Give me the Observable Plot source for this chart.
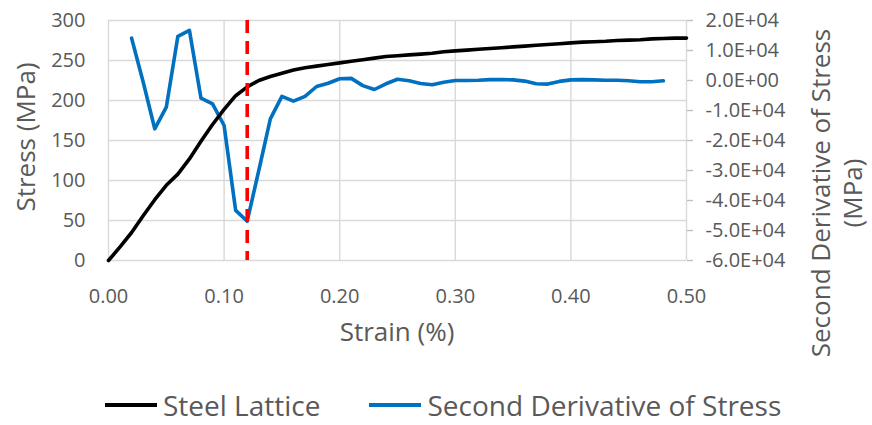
<!DOCTYPE html>
<html>
<head>
<meta charset="utf-8">
<script src="https://cdn.jsdelivr.net/npm/d3@7"></script>
<script src="https://cdn.jsdelivr.net/npm/@observablehq/plot@0.6"></script>
<style>
  body { margin: 0; background: #fff; font-family: "Open Sans", sans-serif; }
  #wrap { position: relative; width: 872px; height: 425px; }
  #legend { position: absolute; left: 105px; top: 390px; display: flex; align-items: center;
            font-size: 28px; line-height: 30px; color: #595959; white-space: nowrap; }
  .sw { display: inline-block; width: 52px; height: 4px; margin-right: 6px; }
  .item { display: flex; align-items: center; }
</style>
</head>
<body>
<div id="wrap">
  <div id="chart"></div>
  <div id="legend"></div>
</div>
<script>
// ---- data ----
const stressStrain = [0.00,0.01,0.02,0.03,0.04,0.05,0.06,0.07,0.08,0.09,0.10,0.11,0.12,0.13,0.14,0.15,0.16,0.17,0.18,0.19,0.20,
  0.21,0.22,0.23,0.24,0.25,0.26,0.27,0.28,0.29,0.30,0.31,0.32,0.33,0.34,0.35,0.36,0.37,0.38,0.39,0.40,
  0.41,0.42,0.43,0.44,0.45,0.46,0.47,0.48,0.49,0.50];
const stressValues = [0,17,35,56,76,94,108,127,149,170,189,206,217,225,230,234,238,241,243,245,247,
  249,251,253,255,256,257,258,259,261,262,263,264,265,266,267,268,269,270,271,272,
  273,273.5,274,275,275.5,276,277,277.5,278,278];
const derivStrain = [0.02,0.03,0.04,0.05,0.06,0.07,0.08,0.09,0.10,0.11,0.12,0.13,0.14,0.15,0.16,0.17,0.18,0.19,0.20,
  0.21,0.22,0.23,0.24,0.25,0.26,0.27,0.28,0.29,0.30,0.31,0.32,0.33,0.34,0.35,0.36,0.37,0.38,0.39,0.40,
  0.41,0.42,0.43,0.44,0.45,0.46,0.47,0.48];
const derivValues = [14100,-500,-16100,-8900,14700,16700,-5900,-7800,-15000,-43300,-46900,-30000,-12800,-5300,-6900,-5300,-2000,-900,600,
  700,-1700,-3000,-1100,400,-100,-1000,-1400,-600,0,0,100,300,300,200,-200,-1100,-1200,-300,200,
  300,200,100,100,-100,-400,-400,-100];
const yieldStrain = [0.12];
const xTicks = [0, 0.1, 0.2, 0.3, 0.4, 0.5];
const yTicks = [0, 50, 100, 150, 200, 250, 300];
const rightTicks = [-60000, -50000, -40000, -30000, -20000, -10000, 0, 10000, 20000];
const seriesNames = ["Steel Lattice", "Second Derivative of Stress"];
const seriesColors = ["#000000", "#0070C0"];
const axisTitles = { x: "Strain (%)", y: "Stress (MPa)", y2: ["Second Derivative of Stress", "(MPa)"] };

// map secondary axis domain [-6e4, 2e4] onto primary [0, 300]
const r0 = -60000, r1 = 20000, p0 = 0, p1 = 300;
const toPrimary = v => p0 + (v - r0) / (r1 - r0) * (p1 - p0);
const toSecondary = p => r0 + (p - p0) / (p1 - p0) * (r1 - r0);
const sciFmt = v => {
  const [m, e] = v.toExponential(1).split("e");
  return m + "E" + e[0] + e.slice(1).padStart(2, "0");
};

const stressData = stressStrain.map((x, i) => ({ x, y: stressValues[i] }));
const derivData = derivStrain.map((x, i) => ({ x, y: toPrimary(derivValues[i]) }));

const W = 872, H = 372;
const mL = 108, mR = 186, mT = 20, mB = 112;
const grid = "#d9d9d9";

const chart = Plot.plot({
  width: W, height: H,
  marginLeft: mL, marginRight: mR, marginTop: mT, marginBottom: mB,
  style: { fontFamily: "'Open Sans', sans-serif", fontSize: "20px", color: "#595959", background: "#fff", overflow: "visible" },
  x: { domain: [0, 0.5] },
  y: { domain: [0, 300] },
  marks: [
    Plot.gridY({ ticks: yTicks, stroke: grid, strokeOpacity: 1, strokeWidth: 1.4 }),
    Plot.gridX({ ticks: xTicks, stroke: grid, strokeOpacity: 1, strokeWidth: 1.4 }),
    Plot.axisY({ ticks: yTicks, tickSize: 0, tickPadding: 23, label: null, fontSize: 20 }),
    Plot.axisX({ ticks: xTicks, tickSize: 0, tickPadding: 28, tickFormat: d3.format(".2f"), label: null, fontSize: 20 }),
    Plot.axisY({ anchor: "right", ticks: rightTicks.map(toPrimary), tickSize: 6, tickPadding: 13,
                 stroke: "#bfbfbf", strokeOpacity: 1, strokeWidth: 1.4,
                 tickFormat: d => sciFmt(Math.round(toSecondary(d) / 10000) * 10000), label: null, fontSize: 20 }),
    Plot.line(derivData, { x: "x", y: "y", stroke: seriesColors[1], strokeWidth: 3.6, strokeLinejoin: "round" }),
    Plot.line(stressData, { x: "x", y: "y", stroke: seriesColors[0], strokeWidth: 3.6, strokeLinejoin: "round" }),
    Plot.ruleX(yieldStrain, { stroke: "#FF0000", strokeWidth: 3.6, strokeDasharray: "13,8" })
  ]
});
document.getElementById("chart").appendChild(chart);

// axis titles
const svg = d3.select(chart);
const tcol = "#595959";
const plotCx = mL + (W - mL - mR) / 2;
const plotCy = mT + (H - mT - mB) / 2;
svg.append("text").text(axisTitles.x)
  .attr("x", plotCx).attr("y", 341)
  .attr("text-anchor", "middle").attr("fill", tcol)
  .style("font-size", "26px").style("font-family", "'Open Sans', sans-serif");
svg.append("text").text(axisTitles.y)
  .attr("transform", `translate(35,${plotCy - 3}) rotate(-90)`)
  .attr("text-anchor", "middle").attr("fill", tcol)
  .style("font-size", "26px").style("font-family", "'Open Sans', sans-serif");
const r = svg.append("text")
  .attr("transform", `translate(830,193) rotate(-90)`)
  .attr("text-anchor", "middle").attr("fill", tcol)
  .style("font-size", "26px").style("font-family", "'Open Sans', sans-serif");
axisTitles.y2.forEach((s, i) => r.append("tspan").attr("x", 0).attr("dy", i === 0 ? 0 : 32).text(s));

// legend
const legend = d3.select("#legend");
seriesNames.forEach((name, i) => {
  const it = legend.append("div").attr("class", "item").style("margin-left", i === 0 ? "0px" : "49px");
  it.append("span").attr("class", "sw").style("background", seriesColors[i]);
  it.append("span").text(name);
});
</script>
</body>
</html>
